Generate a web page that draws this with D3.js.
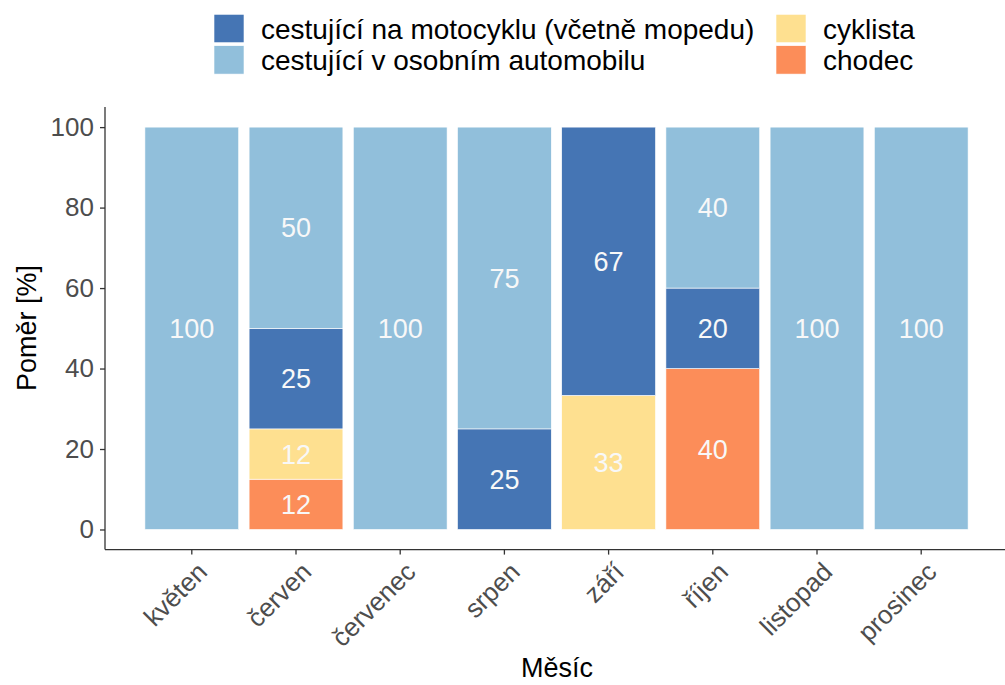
<!DOCTYPE html>
<html>
<head>
<meta charset="utf-8">
<script src="https://cdn.jsdelivr.net/npm/d3@7"></script>
<style>
  body { margin: 0; background: #fff; }
  text { font-family: "Liberation Sans", Arial, sans-serif; }
</style>
</head>
<body>
<div id="chart"></div>
<script>
// months on the x axis
var months = ["květen", "červen", "červenec", "srpen", "září", "říjen", "listopad", "prosinec"];
// stack order, bottom first
var groups = ["chodec", "cyklista", "cestující na motocyklu (včetně mopedu)", "cestující v osobním automobilu"];
// share in % per month, one array per group
var chodec   = [0, 12.5, 0, 0, 0, 40, 0, 0];
var cyklista = [0, 12.5, 0, 0, 33.33, 0, 0, 0];
var motocykl = [0, 25, 0, 25, 66.67, 20, 0, 0];
var auto     = [100, 50, 100, 75, 0, 40, 100, 100];
var yTicks = [0, 20, 40, 60, 80, 100];
// legend, column by column
var legendOrder = ["cestující na motocyklu (včetně mopedu)", "cestující v osobním automobilu", "cyklista", "chodec"];
var colors = ["#FC8D59", "#FEE090", "#4575B4", "#91BFDB"];

var W = 1005, H = 685;
var svg = d3.select("#chart").append("svg").attr("width", W).attr("height", H);

var rows = months.map(function (m, i) {
    var r = {month: m};
    r[groups[0]] = chodec[i];
    r[groups[1]] = cyklista[i];
    r[groups[2]] = motocykl[i];
    r[groups[3]] = auto[i];
    return r;
});
var stacked = d3.stack().keys(groups)(rows);

var x = d3.scaleBand().domain(months).range([105, 1008]).paddingInner(0.1).paddingOuter(0.383);
var y = d3.scaleLinear().domain([-5, 105]).range([549.6, 107]);
var color = d3.scaleOrdinal().domain(groups).range(colors);

// round like R does (half to even)
function rlab(v) {
    var f = Math.floor(v), d = v - f;
    if (Math.abs(d - 0.5) < 1e-9) return (f % 2 === 0) ? f : f + 1;
    return Math.round(v);
}

var layer = svg.append("g").selectAll("g").data(stacked).enter().append("g")
    .attr("fill", function (d) { return color(d.key); });
layer.selectAll("rect").data(function (d) { return d.filter(function (s) { return s[1] - s[0] > 0; }); })
    .enter().append("rect")
    .attr("x", function (d) { return x(d.data.month); })
    .attr("width", x.bandwidth())
    .attr("y", function (d) { return y(d[1]); })
    .attr("height", function (d) { return y(d[0]) - y(d[1]); })
    .attr("stroke", "#ffffff").attr("stroke-width", 0.6);

// value labels
stacked.forEach(function (s) {
    svg.append("g").selectAll("text").data(s.filter(function (d) { return d[1] - d[0] > 0; }))
        .enter().append("text")
        .attr("x", function (d) { return x(d.data.month) + x.bandwidth() / 2; })
        .attr("y", function (d) { return y((d[0] + d[1]) / 2); })
        .attr("dy", "0.36em")
        .attr("text-anchor", "middle")
        .attr("fill", "#f8f8f8")
        .style("font-size", "27px")
        .text(function (d) { return rlab(d[1] - d[0]); });
});

// axes
var yAxis = svg.append("g").attr("transform", "translate(105,0)")
    .call(d3.axisLeft(y).tickValues(yTicks).tickSize(5).tickPadding(6));
var xAxis = svg.append("g").attr("transform", "translate(0,549.6)")
    .call(d3.axisBottom(x).tickSize(5).tickPadding(6));
[yAxis, xAxis].forEach(function (a) {
    a.select(".domain").attr("stroke", "#333333").attr("stroke-width", 1.3);
    a.selectAll(".tick line").attr("stroke", "#333333").attr("stroke-width", 1.3);
    a.selectAll(".tick text").attr("fill", "#4D4D4D").style("font-size", "26px");
});
yAxis.select(".domain").attr("d", "M0,107V549.6");
xAxis.select(".domain").attr("d", "M105,0H1005");
xAxis.selectAll(".tick text")
    .attr("text-anchor", "end")
    .attr("dy", "0.72em")
    .attr("transform", "translate(-4,3) rotate(-45)");

svg.append("text").attr("x", 557).attr("y", 677).attr("text-anchor", "middle")
    .style("font-size", "27px").text("Měsíc");
svg.append("text").attr("transform", "translate(36,328) rotate(-90)").attr("text-anchor", "middle")
    .style("font-size", "27px").text("Poměr [%]");

// legend, two columns
var legCols = [214, 776];
legendOrder.forEach(function (k, i) {
    var gx = legCols[Math.floor(i / 2)], gy = 14.3 + (i % 2) * 31.4;
    svg.append("rect").attr("x", gx).attr("y", gy).attr("width", 30).attr("height", 28.4)
        .attr("fill", color(k)).attr("stroke", "#ffffff").attr("stroke-width", 0.6);
    svg.append("text").attr("x", gx + 47).attr("y", gy + 14.2).attr("dy", "0.36em")
        .style("font-size", "28px").text(k);
});
</script>
</body>
</html>
